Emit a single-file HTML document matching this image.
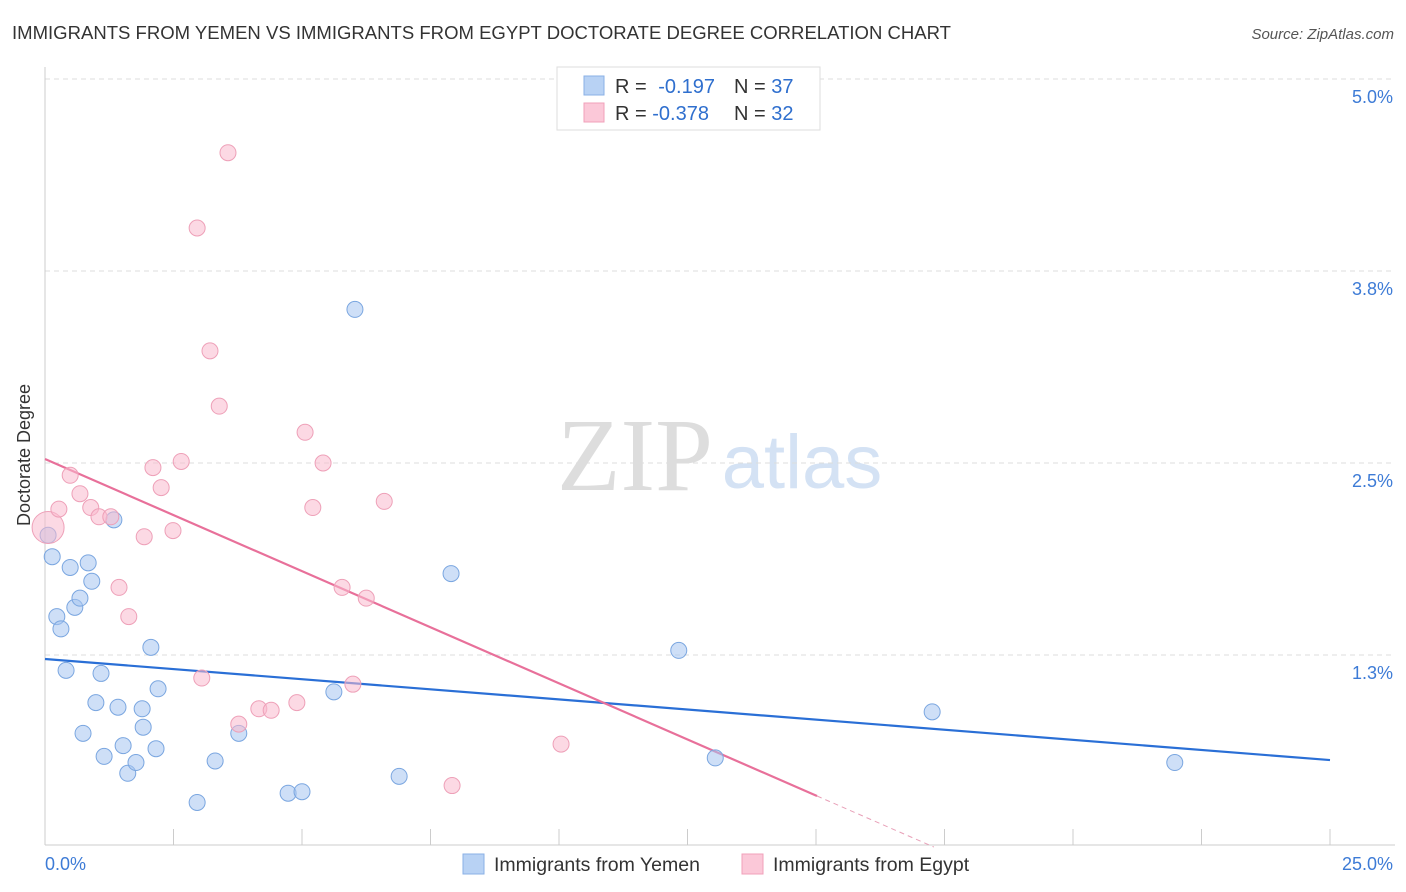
<!DOCTYPE html>
<html><head><meta charset="utf-8"><style>
body{margin:0;background:#fff;font-family:"Liberation Sans",sans-serif}
svg{display:block}
</style></head><body>
<svg id="c" width="1406" height="892" xmlns="http://www.w3.org/2000/svg">
<text x="12" y="39" font-size="18" fill="#333" textLength="939" lengthAdjust="spacingAndGlyphs">IMMIGRANTS FROM YEMEN VS IMMIGRANTS FROM EGYPT DOCTORATE DEGREE CORRELATION CHART</text>
<text x="1394" y="39" font-size="15" font-style="italic" fill="#555" text-anchor="end">Source: ZipAtlas.com</text>
<g>
<text x="635" y="490" font-size="104" font-family="Liberation Serif,serif" fill="#ddd" text-anchor="middle">ZIP</text>
<text x="802" y="488" font-size="76" fill="#d4e2f4" text-anchor="middle">atlas</text>
</g>
<g id="grid"></g>
<g id="axes"></g>
<g id="lines"></g>
<g id="pts"></g>
<text x="30" y="455" font-size="18" fill="#333" text-anchor="middle" transform="rotate(-90 30 455)">Doctorate Degree</text>
<g>
<rect x="557" y="67" width="263" height="63" fill="#fff" stroke="#ddd"/>
<rect x="584" y="76" width="20" height="19" fill="#b8d2f4" stroke="#8ab0e6"/>
<rect x="584" y="103" width="20" height="19" fill="#fbc8d8" stroke="#f0a0ba"/>
<text x="615" y="93" font-size="20" fill="#333">R = <tspan fill="#2f6fce" dx="6">-0.197</tspan></text>
<text x="734" y="93" font-size="20" fill="#333">N = <tspan fill="#2f6fce">37</tspan></text>
<text x="615" y="120" font-size="20" fill="#333">R = <tspan fill="#2f6fce">-0.378</tspan></text>
<text x="734" y="120" font-size="20" fill="#333">N = <tspan fill="#2f6fce">32</tspan></text>
</g>
<g>
<rect x="463" y="854" width="21" height="20" fill="#b8d2f4" stroke="#8ab0e6"/>
<text x="494" y="871" font-size="19.5" fill="#333">Immigrants from Yemen</text>
<rect x="742" y="854" width="21" height="20" fill="#fbc8d8" stroke="#f0a0ba"/>
<text x="773" y="871" font-size="19.5" fill="#333">Immigrants from Egypt</text>
</g>
</svg>
<script>
const yTicks=[1.25,2.5,3.75,5.0];
const yTickLabels=["1.3%","2.5%","3.8%","5.0%"];
const xTickLabels=["0.0%","25.0%"];
const blueX=[0.06,0.14,0.23,0.31,0.41,0.49,0.58,0.68,0.74,0.84,0.91,0.99,1.09,1.15,1.34,1.42,1.52,1.61,1.77,1.89,1.91,2.06,2.16,2.20,2.96,3.31,3.77,4.73,5.00,5.62,6.03,6.89,7.90,12.33,13.04,17.26,21.98];
const blueY=[2.03,1.89,1.50,1.42,1.15,1.82,1.56,1.62,0.74,1.85,1.73,0.94,1.13,0.59,2.13,0.91,0.66,0.48,0.55,0.90,0.78,1.30,0.64,1.03,0.29,0.56,0.74,0.35,0.36,1.01,3.50,0.46,1.78,1.28,0.58,0.88,0.55];
const pinkX=[0.06,0.27,0.49,0.68,0.89,1.05,1.28,1.44,1.63,1.93,2.10,2.26,2.49,2.65,2.96,3.05,3.21,3.39,3.56,3.77,4.16,4.40,4.90,5.06,5.21,5.41,5.78,5.99,6.25,6.60,7.92,10.04];
const pinkY=[2.08,2.20,2.42,2.30,2.21,2.15,2.15,1.69,1.50,2.02,2.47,2.34,2.06,2.51,4.03,1.10,3.23,2.87,4.52,0.80,0.90,0.89,0.94,2.70,2.21,2.50,1.69,1.06,1.62,2.25,0.40,0.67];
const blueTrend=[1.224,0.566];
const pinkTrend=[2.526,0.332];
const pinkSolidEnd=15.02;
const X=v=>45+v*51.4, Y=v=>847-v*153.6;
const NS="http://www.w3.org/2000/svg";
function mk(p,t,a){const e=document.createElementNS(NS,t);for(const k in a)e.setAttribute(k,a[k]);document.getElementById(p).appendChild(e);return e;}
yTicks.forEach((t,i)=>{
 const g=mk('grid','line',{x1:45,x2:1395,y1:Y(t),y2:Y(t),stroke:'#ddd','stroke-dasharray':'5,4'});
 
 
 const l=mk('grid','text',{x:1393,y:Y(t)+24,'font-size':18,fill:'#3d7bd6','text-anchor':'end'});
 l.textContent=yTickLabels[i];
 
 
});
let a=mk('axes','line',{x1:45,x2:45,y1:67,y2:845,stroke:'#ccc'});


a=mk('axes','line',{x1:45,x2:1395,y1:845,y2:845,stroke:'#ccc'});


for(let i=0;i<=10;i++){const t=mk('axes','line',{x1:X(i*2.5),x2:X(i*2.5),y1:829,y2:845,stroke:'#ccc'});
 
 }
[[0,'start',45],[25,'end',1393]].forEach((d,i)=>{const t=mk('axes','text',{x:d[2],y:870,'font-size':18,fill:'#3d7bd6','text-anchor':d[1]});t.textContent=xTickLabels[i];
 
 });
const ps=(pinkTrend[1]-pinkTrend[0])/pinkSolidEnd, pz=-pinkTrend[0]/ps;
blueX.forEach((x,i)=>{const c=mk('pts','circle',{cx:X(x),cy:Y(blueY[i]),r:8,fill:'rgba(165,197,240,0.55)',stroke:'#7aa6e0','stroke-width':1});
 
 });
pinkX.forEach((x,i)=>{const c=mk('pts','circle',{cx:X(x),cy:Y(pinkY[i]),r:i==0?16:8,fill:'rgba(250,185,205,0.55)',stroke:'#eea0b8','stroke-width':1});
 
 });
let l=mk('lines','line',{x1:X(0),y1:Y(blueTrend[0]),x2:X(25),y2:Y(blueTrend[1]),stroke:'#2a6fd6','stroke-width':2.2});


l=mk('lines','line',{x1:X(0),y1:Y(pinkTrend[0]),x2:X(pinkSolidEnd),y2:Y(pinkTrend[1]),stroke:'#e8709a','stroke-width':2.2});


l=mk('lines','line',{x1:X(pinkSolidEnd),y1:Y(pinkTrend[1]),x2:X(pz),y2:Y(0),stroke:'#e8a0b8','stroke-width':1,'stroke-dasharray':'5,4'});


</script>
</body></html>
